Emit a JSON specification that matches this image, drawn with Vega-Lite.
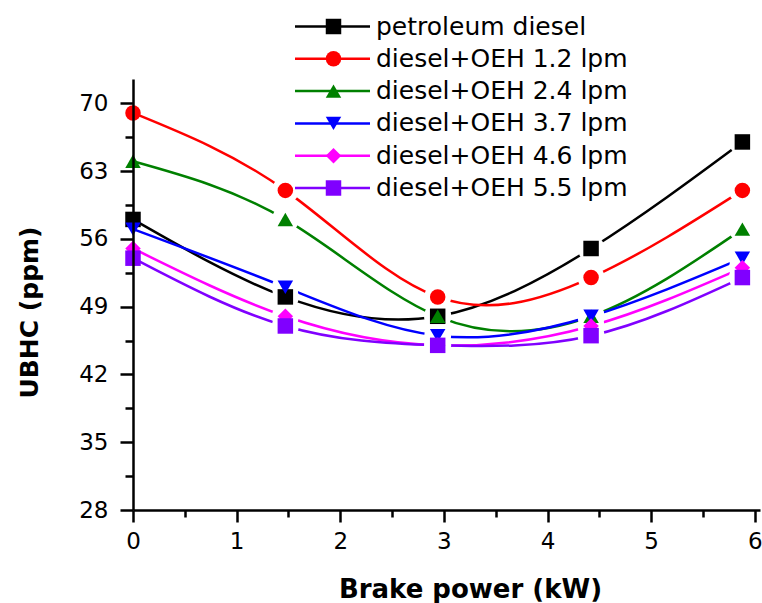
{
  "$schema": "https://vega.github.io/schema/vega-lite/v6.json",
  "width": 627,
  "height": 431,
  "autosize": {"type": "none"},
  "padding": {"left": 133, "top": 79, "right": 2, "bottom": 93},
  "background": "white",
  "config": {
    "view": {"stroke": null},
    "font": "DejaVu Sans"
  },
  "data": {
    "values": [
      {"s": "petroleum diesel", "x": 0, "y": 58},
      {"s": "petroleum diesel", "x": 1.47, "y": 50},
      {"s": "petroleum diesel", "x": 2.94, "y": 48},
      {"s": "petroleum diesel", "x": 4.42, "y": 55},
      {"s": "petroleum diesel", "x": 5.88, "y": 66},
      {"s": "diesel+OEH 1.2 lpm", "x": 0, "y": 69},
      {"s": "diesel+OEH 1.2 lpm", "x": 1.47, "y": 61},
      {"s": "diesel+OEH 1.2 lpm", "x": 2.94, "y": 50},
      {"s": "diesel+OEH 1.2 lpm", "x": 4.42, "y": 52},
      {"s": "diesel+OEH 1.2 lpm", "x": 5.88, "y": 61},
      {"s": "diesel+OEH 2.4 lpm", "x": 0, "y": 64},
      {"s": "diesel+OEH 2.4 lpm", "x": 1.47, "y": 58},
      {"s": "diesel+OEH 2.4 lpm", "x": 2.94, "y": 48},
      {"s": "diesel+OEH 2.4 lpm", "x": 4.42, "y": 48},
      {"s": "diesel+OEH 2.4 lpm", "x": 5.88, "y": 57},
      {"s": "diesel+OEH 3.7 lpm", "x": 0, "y": 57},
      {"s": "diesel+OEH 3.7 lpm", "x": 1.47, "y": 51},
      {"s": "diesel+OEH 3.7 lpm", "x": 2.94, "y": 46},
      {"s": "diesel+OEH 3.7 lpm", "x": 4.42, "y": 48},
      {"s": "diesel+OEH 3.7 lpm", "x": 5.88, "y": 54},
      {"s": "diesel+OEH 4.6 lpm", "x": 0, "y": 55},
      {"s": "diesel+OEH 4.6 lpm", "x": 1.47, "y": 48},
      {"s": "diesel+OEH 4.6 lpm", "x": 2.94, "y": 45},
      {"s": "diesel+OEH 4.6 lpm", "x": 4.42, "y": 47},
      {"s": "diesel+OEH 4.6 lpm", "x": 5.88, "y": 53},
      {"s": "diesel+OEH 5.5 lpm", "x": 0, "y": 54},
      {"s": "diesel+OEH 5.5 lpm", "x": 1.47, "y": 47},
      {"s": "diesel+OEH 5.5 lpm", "x": 2.94, "y": 45},
      {"s": "diesel+OEH 5.5 lpm", "x": 4.42, "y": 46},
      {"s": "diesel+OEH 5.5 lpm", "x": 5.88, "y": 52}
    ]
  },
  "encoding": {
    "x": {
      "field": "x", "type": "quantitative",
      "scale": {"domain": [0, 6.05], "nice": false, "zero": false},
      "axis": {
        "title": "Brake power (kW)",
        "values": [0, 0.5, 1, 1.5, 2, 2.5, 3, 3.5, 4, 4.5, 5, 5.5, 6],
        "labelExpr": "datum.value % 1 === 0 ? format(datum.value, 'd') : ''",
        "labelFlush": false,
        "grid": false,
        "domainColor": "black", "domainWidth": 2.5,
        "tickColor": "black", "tickWidth": 2.5,
        "tickSize": {"condition": {"test": "datum.value % 1 === 0", "value": 12}, "value": 7},
        "labelPadding": 8,
        "labelFont": "DejaVu Sans", "labelFontSize": 23, "labelColor": "black",
        "titleFont": "DejaVu Sans", "titleFontSize": 26, "titleFontWeight": "bold", "titleColor": "black",
        "titleX": 337, "titleY": 87, "titleBaseline": "alphabetic",
        "zindex": 1
      }
    },
    "y": {
      "field": "y", "type": "quantitative",
      "scale": {"domain": [28, 72.5], "nice": false, "zero": false},
      "axis": {
        "title": "UBHC (ppm)",
        "values": [28, 31.5, 35, 38.5, 42, 45.5, 49, 52.5, 56, 59.5, 63, 66.5, 70],
        "labelExpr": "datum.value % 7 === 0 ? datum.label : ''",
        "labelFlush": false,
        "grid": false,
        "domainColor": "black", "domainWidth": 2.5,
        "tickColor": "black", "tickWidth": 2.5,
        "tickSize": {"condition": {"test": "datum.value % 7 === 0", "value": 13}, "value": 8},
        "labelPadding": 12,
        "labelFont": "DejaVu Sans", "labelFontSize": 23, "labelColor": "black",
        "titleFont": "DejaVu Sans", "titleFontSize": 25, "titleFontWeight": "bold", "titleColor": "black",
        "titleX": -91, "titleY": 233,
        "zindex": 1
      }
    }
  },
  "layer": [
    {
      "mark": {"type": "line", "interpolate": "natural", "strokeWidth": 2.5},
      "encoding": {
        "stroke": {
          "field": "s", "type": "nominal",
          "sort": ["petroleum diesel", "diesel+OEH 1.2 lpm", "diesel+OEH 2.4 lpm", "diesel+OEH 3.7 lpm", "diesel+OEH 4.6 lpm", "diesel+OEH 5.5 lpm"],
          "scale": {
            "range": ["#000000", "#ff0000", "#008000", "#0000ff", "#ff00ff", "#8000ff"]
          },
          "legend": {
            "title": null, "orient": "none", "legendX": 187, "legendY": -65,
            "symbolType": "M-5,0H5", "symbolSize": 225, "symbolStrokeWidth": 2.5,
            "labelExpr": "''", "labelFontSize": 25, "rowPadding": 6.3
          }
        }
      }
    },
    {
      "transform": [{"filter": "datum.x > 0"}],
      "mark": {"type": "point", "shape": "circle", "filled": true, "fill": "white", "stroke": null, "size": 720, "opacity": 1}
    },
    {
      "mark": {"type": "point", "filled": true, "opacity": 1, "size": 240},
      "encoding": {
        "fill": {
          "field": "s", "type": "nominal",
          "scale": {
            "domain": ["petroleum diesel", "diesel+OEH 1.2 lpm", "diesel+OEH 2.4 lpm", "diesel+OEH 3.7 lpm", "diesel+OEH 4.6 lpm", "diesel+OEH 5.5 lpm"],
            "range": ["#000000", "#ff0000", "#008000", "#0000ff", "#ff00ff", "#8000ff"]
          },
          "legend": {
            "title": null, "orient": "none", "legendX": 188, "legendY": -65,
            "symbolSize": 240, "labelFontSize": 25, "labelColor": "black", "labelFont": "DejaVu Sans",
            "labelLimit": 400, "labelOffset": 30, "rowPadding": 6.3, "symbolStrokeWidth": 0
          }
        },
        "shape": {
          "field": "s", "type": "nominal",
          "scale": {
            "domain": ["petroleum diesel", "diesel+OEH 1.2 lpm", "diesel+OEH 2.4 lpm", "diesel+OEH 3.7 lpm", "diesel+OEH 4.6 lpm", "diesel+OEH 5.5 lpm"],
            "range": ["square", "circle", "triangle-up", "triangle-down", "diamond", "square"]
          }
        }
      }
    }
  ]
}
